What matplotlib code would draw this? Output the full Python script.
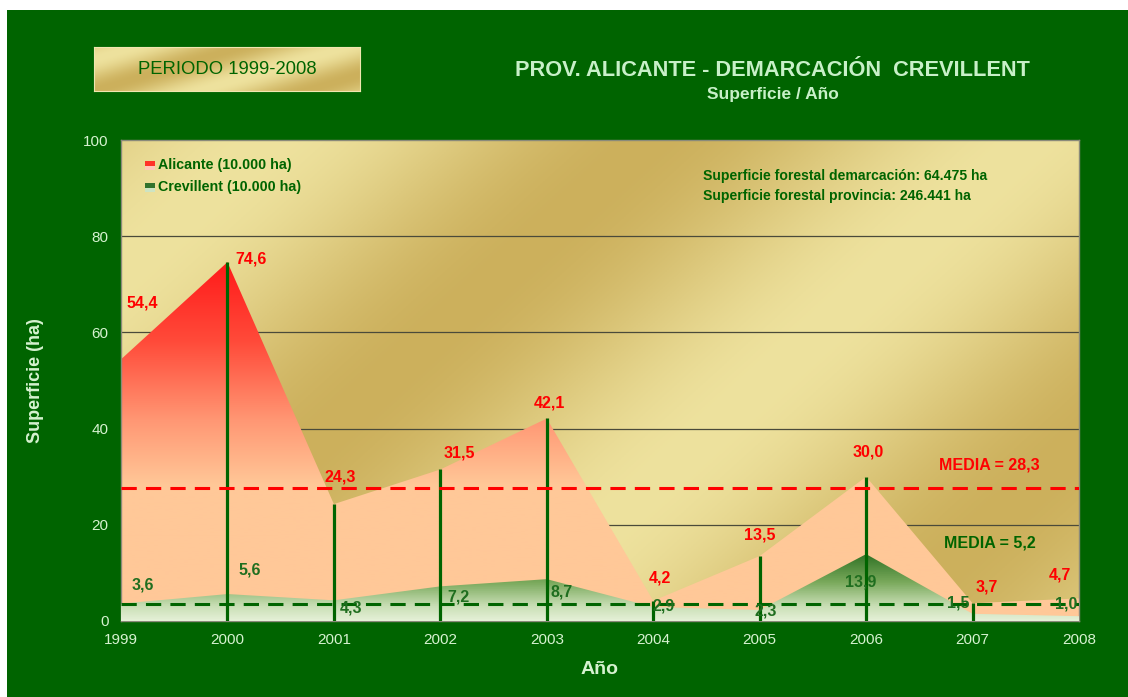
import numpy as np
import matplotlib
matplotlib.use("Agg")
import matplotlib.pyplot as plt
from matplotlib.patches import Rectangle

plt.rcParams['font.family'] = ['Liberation Sans', 'DejaVu Sans']

##### datos #####
years = [1999, 2000, 2001, 2002, 2003, 2004, 2005, 2006, 2007, 2008]
alicante = [54.4, 74.6, 24.3, 31.5, 42.1, 4.2, 13.5, 30.0, 3.7, 4.7]
crevillent = [3.6, 5.6, 4.3, 7.2, 8.7, 2.9, 2.3, 13.9, 1.5, 1.0]
alicante_labels = ["54,4", "74,6", "24,3", "31,5", "42,1", "4,2", "13,5", "30,0", "3,7", "4,7"]
crevillent_labels = ["3,6", "5,6", "4,3", "7,2", "8,7", "2,9", "2,3", "13,9", "1,5", "1,0"]
media_alicante_txt = "MEDIA = 28,3"
media_crevillent_txt = "MEDIA = 5,2"
media_alicante_line = 27.6   # where the line is drawn in the picture
media_crevillent_line = 3.5
yticks = [0, 20, 40, 60, 80, 100]

# label offsets (pixels) from each point
alc_off = [(21, 56), (24, 3), (6, 27), (19, 16), (3, 15), (7, 23), (0, 21), (2, 25), (14, 16), (-19, 23)]
cre_off = [(22, 19), (22, 24), (17, -8), (18, -11), (15, -13), (10, 1), (6, -1), (-5, -28), (-14, 11), (-13, 12)]

W, H = 1128, 697
fig = plt.figure(figsize=(W / 100, H / 100), dpi=100)
fig.patch.set_facecolor("white")
fig.patches.append(Rectangle((7 / W, 0), 1, 1 - 10 / H, transform=fig.transFigure,
                             facecolor="#006400", edgecolor="none", zorder=-10))

GREEN = "#006400"
PALE = "#d6f2d0"
NARROW = ["Liberation Sans Narrow", "Liberation Sans"]


def ramp(stops, n=256, vmax=100):
    v = np.linspace(0, vmax, n)
    pos = [s[0] for s in stops]
    out = np.zeros((n, 1, 3))
    for c in range(3):
        out[:, 0, c] = np.interp(v, pos, [s[1][c] / 255 for s in stops])
    return out


def gold(h=200, w=400):
    yy, xx = np.mgrid[0:1:h * 1j, 0:1:w * 1j]
    s = xx * 1.0 + yy * 0.55
    t = 0.5 + 0.5 * np.cos((s - 0.15) * 2 * np.pi * 1.25)
    light = np.array([238, 226, 158]) / 255
    dark = np.array([204, 176, 92]) / 255
    return light[None, None, :] * t[..., None] + dark[None, None, :] * (1 - t[..., None])


##### ejes #####
ax = fig.add_axes([121 / W, (H - 621) / H, (1079 - 121) / W, (621 - 140) / H])
ax.set_xlim(1999, 2008)
ax.set_ylim(0, 100)
ax.imshow(gold(), extent=[1999, 2008, 0, 100], aspect="auto", zorder=0, origin="upper")
for v in yticks[1:-1]:
    ax.axhline(v, color="#4a4a3a", lw=0.9, zorder=1)

red_img = ramp([(0, (255, 200, 152)), (28, (255, 200, 152)), (42, (255, 150, 115)),
                (58, (255, 75, 58)), (75, (255, 25, 25)), (100, (255, 0, 0))])
grn_img = ramp([(0, (228, 240, 214)), (3, (200, 222, 180)), (8, (120, 168, 90)),
                (14, (45, 112, 35)), (100, (20, 90, 20))])

poly = ax.fill_between(years, alicante, 0, color="none", zorder=2)
im = ax.imshow(red_img, extent=[1999, 2008, 0, 100], aspect="auto", origin="lower", zorder=2)
im.set_clip_path(poly.get_paths()[0], transform=ax.transData)

poly2 = ax.fill_between(years, crevillent, 0, color="none", zorder=3)
im2 = ax.imshow(grn_img, extent=[1999, 2008, 0, 100], aspect="auto", origin="lower", zorder=3)
im2.set_clip_path(poly2.get_paths()[0], transform=ax.transData)

ax.vlines(years[1:-1], 0, alicante[1:-1], color=GREEN, lw=2.3, zorder=5)
ax.axhline(media_alicante_line, color="#ff0000", lw=2.2, ls=(0, (5, 3)), zorder=6)
ax.axhline(media_crevillent_line, color=GREEN, lw=2.2, ls=(0, (5, 3)), zorder=6)

for x, v, lab, (dx, dy) in zip(years, alicante, alicante_labels, alc_off):
    ax.annotate(lab, (x, v), xytext=(dx, dy), textcoords="offset pixels", ha="center", va="center",
                color="#ff0000", fontsize=11.5, fontweight="bold", zorder=8)
for x, v, lab, (dx, dy) in zip(years, crevillent, crevillent_labels, cre_off):
    ax.annotate(lab, (x, v), xytext=(dx, dy), textcoords="offset pixels", ha="center", va="center",
                color="#1f6e1f", fontsize=11.5, fontweight="bold", zorder=8)

ax.text(0.906, 0.324, media_alicante_txt, transform=ax.transAxes, ha="center", va="center",
        color="#ff0000", fontsize=11.5, fontweight="bold", zorder=8)
ax.text(0.907, 0.162, media_crevillent_txt, transform=ax.transAxes, ha="center", va="center",
        color=GREEN, fontsize=11.5, fontweight="bold", zorder=8)

ax.set_xticks(years)
ax.set_yticks(yticks)
ax.tick_params(length=0, colors=PALE, labelsize=11, pad=9)
for s in ax.spines.values():
    s.set_color("#8a8a7a")
    s.set_linewidth(1)
ax.set_xlabel("Año", color=PALE, fontsize=14, fontweight="bold", labelpad=10)
ax.set_ylabel("Superficie (ha)", color=PALE, fontsize=13, fontweight="bold", labelpad=28)

# leyenda
leg = [("Alicante (10.000 ha)", (255, 50, 40), (255, 200, 185)),
       ("Crevillent (10.000 ha)", (50, 115, 45), (205, 228, 195))]
for i, (txt, c1, c2) in enumerate(leg):
    yp = 165 + i * 22
    fig.patches.append(Rectangle((145 / W, 1 - (yp + 1) / H), 10 / W, 5 / H, transform=fig.transFigure,
                                 facecolor=np.array(c1) / 255, edgecolor="none", zorder=10))
    fig.patches.append(Rectangle((145 / W, 1 - (yp + 5) / H), 10 / W, 4 / H, transform=fig.transFigure,
                                 facecolor=np.array(c2) / 255, edgecolor="none", zorder=10))
    fig.text(158 / W, 1 - yp / H, txt, ha="left", va="center", color=GREEN, fontsize=10.3,
             fontweight="bold", family=NARROW, zorder=11)

fig.text(703 / W, 1 - 176 / H, "Superficie forestal demarcación: 64.475 ha", ha="left", va="center",
         color=GREEN, fontsize=10.1, fontweight="bold", family=NARROW)
fig.text(703 / W, 1 - 196 / H, "Superficie forestal provincia: 246.441 ha", ha="left", va="center",
         color=GREEN, fontsize=10.1, fontweight="bold", family=NARROW)

# titulo
fig.text(772 / W, 1 - 70 / H, "PROV. ALICANTE - DEMARCACIÓN  CREVILLENT", ha="center", va="center",
         color="#c8f0c8", fontsize=15.7, fontweight="bold")
fig.text(773 / W, 1 - 95 / H, "Superficie / Año", ha="center", va="center",
         color="#c8f0c8", fontsize=12.5, fontweight="bold")

# caja periodo
bx = fig.add_axes([94 / W, 1 - 91 / H, (360 - 94) / W, 44 / H])
bx.imshow(gold(60, 300), extent=[0, 1, 0, 1], aspect="auto")
bx.set_xticks([])
bx.set_yticks([])
for s in bx.spines.values():
    s.set_color("#f0e6b0")
bx.text(0.5, 0.5, "PERIODO 1999-2008", ha="center", va="center", color=GREEN, fontsize=13.3)

fig.savefig("out.png", dpi=100, facecolor=fig.get_facecolor())
